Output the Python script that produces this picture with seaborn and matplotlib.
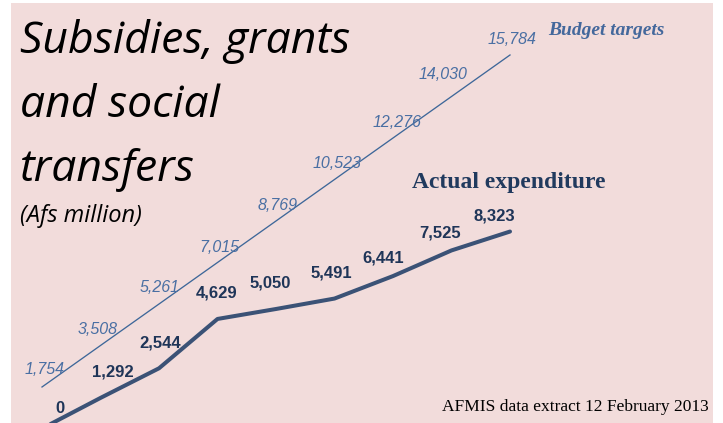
import pandas as pd
import matplotlib
matplotlib.use("Agg")
import matplotlib.pyplot as plt
import seaborn as sns

# Monthly cumulative figures (Afs million)
months = list(range(9))
budget_targets = [1754, 3508, 5261, 7015, 8769, 10523, 12276, 14030, 15784]
actual_expenditure = [0, 1292, 2544, 4629, 5050, 5491, 6441, 7525, 8323]

# label offsets in pixels (dx, dy) from each point
budget_offsets = [(3, 17), (-3, 16), (1, 16), (2, 15), (2, 15), (3, 16), (4, 15), (-8, 22), (2, 15)]
actual_offsets = [(18, 20), (12, 26), (1, 25), (-1, 26), (-6, 26), (-3, 26), (-10, 18), (-11, 17), (-16, 16)]

PINK = "#f2dcdb"
BUDGET_BLUE = "#3e6799"
BUDGET_TEXT = "#4a6fa3"
ACTUAL_LINE = "#3b5276"
ACTUAL_TEXT = "#1f3558"

df = pd.DataFrame({"month": months, "budget": budget_targets, "actual": actual_expenditure})

fig = plt.figure(figsize=(7.23, 4.23), dpi=100, facecolor="white")
ax = fig.add_axes([11 / 723, 0, 702 / 723, 420 / 423])
ax.set_facecolor(PINK)

sns.lineplot(data=df, x="month", y="budget", ax=ax, color=BUDGET_BLUE, linewidth=0.95)
sns.lineplot(data=df, x="month", y="actual", ax=ax, color=ACTUAL_LINE, linewidth=2.9,
             solid_capstyle="round")

ax.set_xlim(-0.53, 11.47)
ax.set_ylim(232, 17981)
ax.set_xticks([])
ax.set_yticks([])
ax.set_xlabel("")
ax.set_ylabel("")
for s in ax.spines.values():
    s.set_visible(False)

# Data labels
for m, v, (dx, dy) in zip(months, budget_targets, budget_offsets):
    ax.annotate(f"{v:,}", (m, v), xytext=(dx, dy), textcoords="offset pixels",
                ha="center", va="center", fontsize=11.5, style="italic",
                family="Liberation Sans", color=BUDGET_TEXT, annotation_clip=False)
for m, v, (dx, dy) in zip(months, actual_expenditure, actual_offsets):
    ax.annotate(f"{v:,}", (m, v), xytext=(dx, dy), textcoords="offset pixels",
                ha="center", va="center", fontsize=12, weight="bold",
                family="Liberation Sans", color=ACTUAL_TEXT, annotation_clip=False)

# Series names
fig.text(548 / 723, 1 - 35 / 423, "Budget targets", family="Liberation Serif",
         style="italic", weight="bold", fontsize=14, color="#44689c", va="baseline")
fig.text(412 / 723, 1 - 188 / 423, "Actual expenditure", family="Liberation Serif",
         weight="bold", fontsize=17, color="#213a5e", va="baseline")

# Title block
title_lines = ["Subsidies, grants", "and social", "transfers"]
for line, base in zip(title_lines, [53, 117, 181]):
    fig.text(20 / 723, 1 - base / 423, line, family="Open Sans", style="italic",
             fontsize=32, color="black", va="baseline")
fig.text(20 / 723, 1 - 222 / 423, "(Afs million)", family="Open Sans", style="italic",
         fontsize=17, color="black", va="baseline")

fig.text(709 / 723, 1 - 411 / 423, "AFMIS data extract 12 February 2013",
         family="Liberation Serif", fontsize=12.5, color="black", ha="right", va="baseline")

fig.savefig("out.png", dpi=100, facecolor="white")
